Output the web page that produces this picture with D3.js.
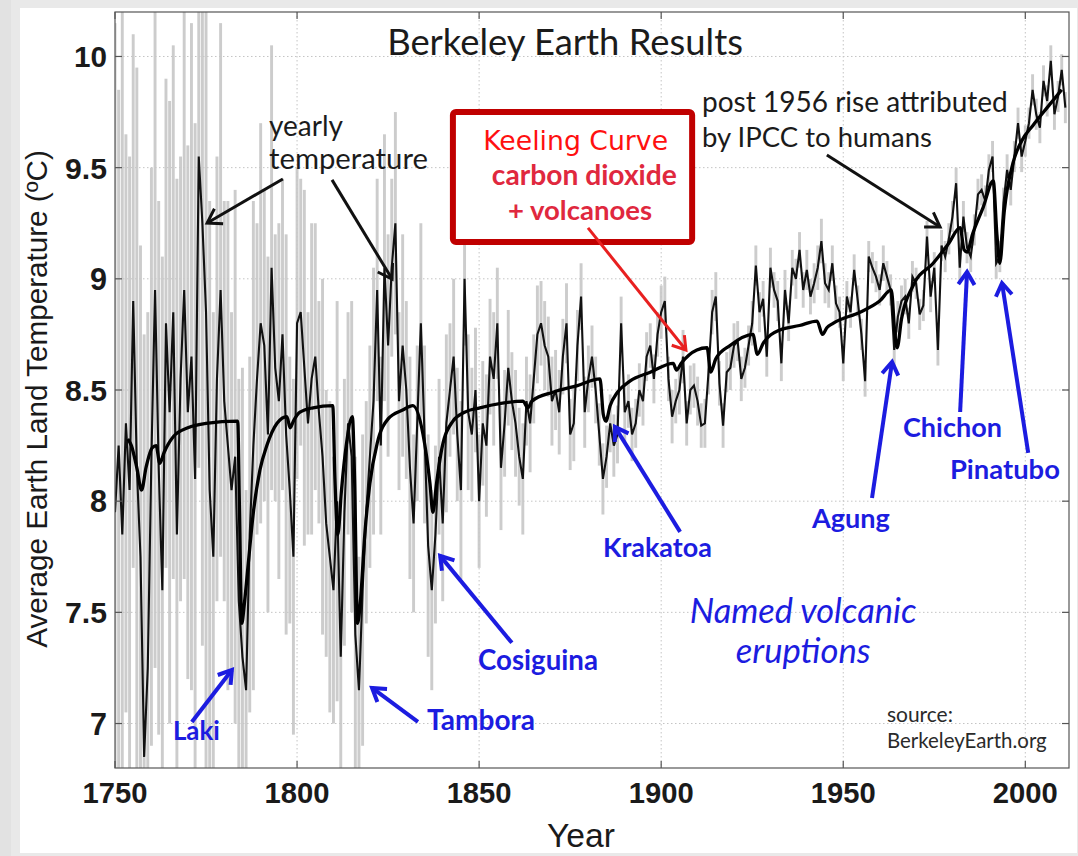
<!DOCTYPE html>
<html><head><meta charset="utf-8">
<script src="https://cdn.jsdelivr.net/npm/d3@7"></script>
<style>
html,body{margin:0;padding:0;background:#e9e9e9;}
svg{display:block;}
</style></head><body>
<svg id="chart" width="1078" height="856"></svg>
<script>
// ---------------- DATA ----------------
const startYear = 1750;
// yearly average land temperature (°C), 1750..2011
const annualTemp = [
 7.95,8.25,7.85,8.35,8.05,8.90,8.15,7.75,6.85,7.25,
 8.20,8.95,8.15,7.60,8.80,8.40,8.85,7.85,8.55,8.95,
 8.40,8.65,8.10,9.55,9.25,8.85,8.05,7.75,8.55,8.95,
 8.45,8.25,8.05,8.20,7.55,7.30,7.15,7.85,8.25,8.55,
 8.80,8.70,8.30,9.05,8.60,8.45,8.75,8.30,8.05,7.75,
 8.80,8.85,8.60,8.35,8.55,8.65,8.40,8.20,7.90,7.75,
 7.60,8.00,7.30,7.95,8.35,8.20,7.40,7.15,7.60,7.95,
 8.20,8.45,8.95,8.25,9.05,8.70,9.05,9.25,8.45,8.70,
 8.50,8.15,7.90,8.35,8.80,8.30,7.80,7.60,7.85,8.20,
 7.90,8.35,8.50,8.65,8.30,8.05,9.00,8.40,8.30,8.50,
 8.00,8.35,8.25,8.65,8.55,8.80,8.15,8.35,8.60,8.45,
 8.35,8.20,8.10,8.45,8.35,8.55,8.75,8.80,8.70,8.65,
 8.45,8.50,8.40,8.65,8.80,8.30,8.35,8.70,8.92,8.40,
 8.55,8.65,8.50,8.30,8.10,8.20,8.35,8.25,8.30,8.80,
 8.40,8.45,8.30,8.35,8.50,8.45,8.65,8.70,8.55,8.75,
 8.85,8.90,8.55,8.38,8.45,8.50,8.65,8.35,8.50,8.52,
 8.45,8.34,8.35,8.58,8.85,8.92,8.53,8.34,8.58,8.60,
 8.70,8.72,8.55,8.60,8.70,8.80,9.06,8.85,8.91,8.65,
 9.05,8.95,8.90,8.62,8.95,8.80,9.05,9.00,9.13,8.95,
 9.04,8.92,8.98,9.05,9.17,8.98,8.95,9.07,8.89,8.85,
 8.62,8.92,8.85,9.04,8.90,8.75,8.54,9.10,9.05,9.01,
 8.95,9.07,9.01,8.95,8.68,8.83,8.90,8.92,8.80,9.01,
 8.98,8.84,8.88,9.19,8.92,9.05,8.68,9.15,9.10,9.18,
 9.28,9.43,9.05,9.28,9.14,9.10,9.22,9.38,9.40,9.35,
 9.49,9.55,9.07,9.10,9.34,9.49,9.40,9.55,9.70,9.55,
 9.62,9.70,9.85,9.74,9.68,9.89,9.80,9.98,9.74,9.82,
 9.94,9.77
];
// 95% uncertainty half-width (°C), 1750..2011
const uncertainty = [
 2.2,1.6,2.4,1.3,1.5,1.2,1.8,1.4,1.9,1.6,
 1.3,1.7,1.2,1.5,1.1,1.4,1.2,1.6,1.0,1.3,
 1.2,1.5,1.6,1.4,1.9,2.2,1.3,1.1,1.0,1.2,
 0.9,1.1,0.8,1.2,1.0,1.3,0.9,0.8,1.1,0.7,
 0.9,0.7,0.8,1.0,0.6,0.8,0.7,0.9,0.6,0.8,
 0.7,0.6,0.8,0.5,0.7,0.6,0.5,0.8,0.6,0.7,
 0.6,0.9,0.7,0.6,0.5,0.7,0.8,0.6,0.7,0.5,
 0.5,0.6,0.5,0.4,0.6,0.5,0.4,0.5,0.4,0.5,
 0.4,0.5,0.4,0.35,0.45,0.4,0.5,0.45,0.4,0.35,
 0.35,0.4,0.3,0.35,0.3,0.4,0.3,0.35,0.3,0.28,
 0.3,0.28,0.32,0.26,0.3,0.25,0.28,0.24,0.26,0.22,
 0.24,0.22,0.25,0.2,0.22,0.2,0.22,0.19,0.2,0.18,
 0.2,0.18,0.19,0.17,0.18,0.16,0.17,0.16,0.15,0.16,
 0.15,0.14,0.15,0.14,0.16,0.14,0.13,0.14,0.13,0.12,
 0.13,0.12,0.12,0.11,0.12,0.11,0.11,0.10,0.11,0.10,
 0.12,0.11,0.10,0.12,0.10,0.11,0.12,0.10,0.11,0.10,
 0.11,0.10,0.11,0.10,0.10,0.11,0.10,0.10,0.09,0.10,
 0.10,0.09,0.10,0.09,0.09,0.10,0.09,0.09,0.08,0.09,
 0.09,0.08,0.09,0.08,0.09,0.08,0.08,0.09,0.08,0.08,
 0.09,0.08,0.09,0.10,0.10,0.09,0.08,0.08,0.08,0.07,
 0.08,0.07,0.07,0.07,0.07,0.07,0.07,0.07,0.07,0.07,
 0.07,0.08,0.07,0.07,0.08,0.07,0.07,0.08,0.07,0.07,
 0.07,0.07,0.07,0.07,0.07,0.07,0.07,0.07,0.07,0.07,
 0.07,0.07,0.07,0.07,0.07,0.07,0.07,0.07,0.07,0.07,
 0.07,0.07,0.07,0.07,0.07,0.07,0.07,0.07,0.07,0.07,
 0.07,0.07,0.07,0.07,0.07,0.07,0.07,0.07,0.07,0.07,
 0.07,0.07
];
// fitted curve (CO2 + volcanoes): years and temperatures
const fitYears = [1753.5,1754.5,1756.0,1757.3,1758.5,1760.2,1761.3,1762.3,1763.5,1766.0,1770.0,1775.0,
 1783.7,1784.2,1784.8,1785.6,1786.6,1788.0,1789.8,1791.7,1794.5,1797.2,1798.1,1799.0,1800.8,1804.4,1809.8,
 1810.4,1811.2,1812.2,1813.5,1815.2,1815.8,1816.6,1817.4,1818.6,1820.0,1822.0,1825.0,1829.0,1831.8,
 1834.6,1836.5,1837.3,1838.3,1839.8,1842.8,1846.0,1850.2,1856.0,1862.0,1863.4,1864.5,1870.3,1877.0,
 1883.2,1884.1,1884.8,1886.0,1888.0,1891.4,1897.0,1903.3,1904.2,1905.5,1909.8,1912.6,1913.6,1915.0,
 1918.9,1925.2,1926.4,1928.0,1932.6,1938.0,1942.8,1944.3,1945.5,1947.2,1954.6,1960.0,1963.2,1964.2,
 1964.8,1966.0,1969.2,1974.7,1979.0,1982.1,1983.2,1984.0,1985.5,1988.4,1991.2,1992.2,1993.0,1994.2,
 1996.6,1999.0,2002.1,2006.0,2010.0];
const fitTemps = [8.28,8.25,8.15,8.05,8.15,8.24,8.25,8.17,8.22,8.29,8.33,8.35,
 8.36,7.95,7.45,7.55,7.72,7.95,8.14,8.25,8.35,8.38,8.33,8.36,8.40,8.42,8.43,
 8.10,7.85,8.05,8.25,8.38,8.10,7.45,7.55,7.85,8.08,8.26,8.37,8.41,8.43,
 8.30,8.08,7.95,8.08,8.24,8.36,8.40,8.42,8.44,8.45,8.42,8.45,8.49,8.52,
 8.55,8.39,8.36,8.43,8.49,8.54,8.58,8.62,8.59,8.62,8.68,8.69,8.58,8.64,
 8.70,8.75,8.66,8.71,8.77,8.79,8.81,8.75,8.78,8.80,8.85,8.90,8.95,8.75,
 8.69,8.82,8.97,9.07,9.16,9.23,9.13,9.12,9.20,9.32,9.44,9.20,9.07,9.30,
 9.52,9.62,9.69,9.77,9.85];
const xTicks = [1750,1800,1850,1900,1950,2000];
const yTicks = [7,7.5,8,8.5,9,9.5,10];
const yTickLabels = ["7","7.5","8","8.5","9","9.5","10"];
const volcanoNames = ["Laki","Tambora","Cosiguina","Krakatoa","Agung","Chichon","Pinatubo"];

// ---------------- LAYOUT ----------------
const W = 1078, H = 856;
const plot = {left:115, right:1069, top:12, bottom:768};
const svg = d3.select("#chart");
const x = d3.scaleLinear().domain([1750,2012]).range([plot.left, plot.right]);
const y = d3.scaleLinear().domain([6.8,10.2]).range([plot.bottom, plot.top]);

function fit(sel, target){
  const w = sel.node().getComputedTextLength();
  const fs = parseFloat(sel.attr("font-size"));
  if (w > 0) sel.attr("font-size", (fs*target/w).toFixed(2));
  return sel;
}

// white panel
svg.append("rect").attr("x",0).attr("y",0).attr("width",11).attr("height",H).attr("fill","#e2e2e2");
svg.append("rect").attr("x",20).attr("y",8).attr("width",1057).attr("height",845).attr("fill","#ffffff");

const defs = svg.append("defs");
defs.append("clipPath").attr("id","clip").append("rect")
  .attr("x",plot.left).attr("y",plot.top).attr("width",plot.right-plot.left).attr("height",plot.bottom-plot.top);

// grid
const grid = svg.append("g").attr("stroke","#c4c4c4").attr("stroke-width",1).attr("stroke-dasharray","1.5,2.5");
grid.selectAll("line.gx").data(xTicks.slice(1)).join("line")
  .attr("x1",d=>x(d)).attr("x2",d=>x(d)).attr("y1",plot.top).attr("y2",plot.bottom);
grid.selectAll("line.gy").data(yTicks).join("line")
  .attr("y1",d=>y(d)).attr("y2",d=>y(d)).attr("x1",plot.left).attr("x2",plot.right);

const series = annualTemp.map((t,i)=>({year:startYear+i, t, u:uncertainty[i]}));
const data = svg.append("g").attr("clip-path","url(#clip)");
const bw = (x(1751)-x(1750))*0.8;
data.selectAll("rect.unc").data(series).join("rect")
  .attr("x",d=>x(d.year)-bw/2).attr("width",bw)
  .attr("y",d=>y(d.t+d.u)).attr("height",d=>y(d.t-d.u)-y(d.t+d.u))
  .attr("fill","#c6c6c6").attr("opacity",0.9);

data.append("path").datum(series)
  .attr("d", d3.line().x(d=>x(d.year)).y(d=>y(d.t)))
  .attr("fill","none").attr("stroke","#111").attr("stroke-width",2.1).attr("stroke-linejoin","miter");

const fitData = fitYears.map((yr,i)=>({year:yr, t:fitTemps[i]}));
data.append("path").datum(fitData)
  .attr("d", d3.line().x(d=>x(d.year)).y(d=>y(d.t)).curve(d3.curveMonotoneX))
  .attr("fill","none").attr("stroke","#000").attr("stroke-width",3.3).attr("stroke-linejoin","round");

// frame & ticks
svg.append("rect").attr("x",plot.left).attr("y",plot.top).attr("width",plot.right-plot.left)
  .attr("height",plot.bottom-plot.top).attr("fill","none").attr("stroke","#555").attr("stroke-width",1.2);
const tk = svg.append("g").attr("stroke","#555").attr("stroke-width",1.2);
xTicks.forEach(v=>{
  tk.append("line").attr("x1",x(v)).attr("x2",x(v)).attr("y1",plot.bottom).attr("y2",plot.bottom-7);
  tk.append("line").attr("x1",x(v)).attr("x2",x(v)).attr("y1",plot.top).attr("y2",plot.top+7);
});
yTicks.forEach(v=>{
  tk.append("line").attr("y1",y(v)).attr("y2",y(v)).attr("x1",plot.left).attr("x2",plot.left+7);
  tk.append("line").attr("y1",y(v)).attr("y2",y(v)).attr("x1",plot.right).attr("x2",plot.right-7);
});

// tick labels
const axisFont = "'Liberation Sans', Arial, sans-serif";
xTicks.forEach(v=>{
  const t = svg.append("text").attr("x",x(v)).attr("y",803).attr("text-anchor","middle")
    .attr("font-family",axisFont).attr("font-weight","bold").attr("font-size",28).attr("fill","#1a1a1a").text(v);
  fit(t,65);
});
yTicks.forEach((v,i)=>{
  const t = svg.append("text").attr("x",107).attr("y",y(v)+11).attr("text-anchor","end")
    .attr("font-family",axisFont).attr("font-weight","bold").attr("font-size",28).attr("fill","#1a1a1a").text(yTickLabels[i]);
  fit(t, yTickLabels[i].length===1 ? 17 : (yTickLabels[i]==="10" ? 33 : 42));
});
fit(svg.append("text").attr("x",581).attr("y",847).attr("text-anchor","middle")
  .attr("font-family",axisFont).attr("font-size",30).attr("fill","#1a1a1a").text("Year"), 68);
fit(svg.append("text").attr("transform","translate(47,399) rotate(-90)").attr("text-anchor","middle")
  .attr("font-family",axisFont).attr("font-size",26).attr("fill","#1a1a1a")
  .text("Average Earth Land Temperature (ºC)"), 498);

// ---------------- ANNOTATIONS ----------------
const cal = "Lato, 'Open Sans', sans-serif";
const blue = "#1c1ce0", red = "#c00000", ink = "#1b1b1b";
function arrow(x1,y1,x2,y2,color,w,head){
  const g = svg.append("g").attr("stroke",color).attr("stroke-width",w).attr("fill","none");
  g.append("line").attr("x1",x(x1)).attr("y1",y(y1)).attr("x2",x(x2)).attr("y2",y(y2));
  const X1=x(x1),Y1=y(y1),X2=x(x2),Y2=y(y2);
  const ang = Math.atan2(Y2-Y1,X2-X1), a = Math.PI/5.5;
  g.append("path").attr("stroke-linejoin","miter").attr("d",
    `M${X2-head*Math.cos(ang-a)},${Y2-head*Math.sin(ang-a)}L${X2},${Y2}L${X2-head*Math.cos(ang+a)},${Y2-head*Math.sin(ang+a)}`);
}
function label(txt, yr, t, anchor, family, size, color, width, opts={}){
  const s = svg.append("text").attr("x",x(yr)).attr("y",y(t)).attr("text-anchor",anchor)
    .attr("font-family",family).attr("font-size",size).attr("fill",color).text(txt);
  if (opts.weight) s.attr("font-weight",opts.weight);
  if (opts.italic) s.attr("font-style","italic");
  return fit(s,width);
}

// title
label("Berkeley Earth Results",1873.6,10.007,"middle",cal,32,ink,356);

// yearly temperature
label("yearly",1792.3,9.642,"start",cal,24,ink,74);
label("temperature",1792.3,9.494,"start",cal,24,ink,159);
arrow(1796.1,9.449,1775.3,9.251,"#111",3,16);
arrow(1809.6,9.445,1826.1,8.999,"#111",3,16);

// Keeling box
svg.append("rect").attr("x",x(1842.8)).attr("y",y(9.750)).attr("width",x(1908.5)-x(1842.8))
  .attr("height",y(9.166)-y(9.750)).attr("rx",3).attr("fill","#fff").attr("stroke",red).attr("stroke-width",6);
label("Keeling Curve",1876.5,9.579,"middle","'DejaVu Sans', Verdana, sans-serif",22,"#ff1010",185);
label("carbon dioxide",1878.9,9.422,"middle",cal,26,"#e0283e",185,{weight:"bold"});
label("+ volcanoes",1877.7,9.265,"middle",cal,26,"#e0283e",144,{weight:"bold"});
arrow(1879.9,9.229,1906.8,8.680,"#e82020",3,15);

// post 1956
label("post 1956 rise attributed",1911.2,9.750,"start",cal,24,ink,306);
label("by IPCC to humans",1911.2,9.593,"start",cal,24,ink,230);
arrow(1945.5,9.557,1976.6,9.233,"#111",3,16);

// volcanoes
const vText = [[1765.9,6.926,47],[1835.7,6.971,108],[1849.7,7.241,120],[1884.0,7.749,109],[1941.4,7.879,78],[1966.4,8.289,99],[1979.3,8.100,110]];
const vArrow = [[1771.1,7.007,1782.1,7.241],[1833.2,7.007,1820.6,7.160],[1859.0,7.363,1839.3,7.754],
  [1905.2,7.862,1887.3,8.334],[1957.9,8.014,1963.4,8.626],[1982.1,8.401,1984.0,9.031],[2000.8,8.217,1993.6,8.981]];
volcanoNames.forEach((n,i)=>{
  label(n,vText[i][0],vText[i][1],"start",cal,24,blue,vText[i][2],{weight:"bold"});
  arrow(vArrow[i][0],vArrow[i][1],vArrow[i][2],vArrow[i][3],blue,4,15);
});
label("Named volcanic",1939.0,7.452,"middle",cal,28,blue,227,{italic:true});
label("eruptions",1939.0,7.272,"middle",cal,28,blue,135,{italic:true});

label("source:",1962.0,7.007,"start",cal,17,"#2a2a2a",66);
label("BerkeleyEarth.org",1962.0,6.890,"start",cal,17,"#2a2a2a",160);
</script>
</body></html>
